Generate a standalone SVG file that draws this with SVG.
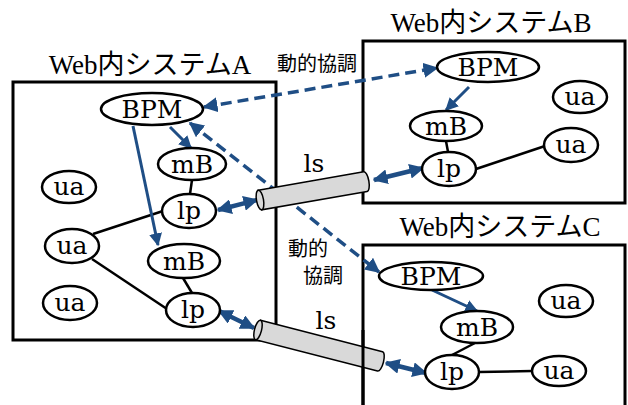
<svg xmlns="http://www.w3.org/2000/svg" width="628" height="405" viewBox="0 0 628 405">
  <style>
    .box { fill: none; stroke: #000; stroke-width: 3; }
    .title { font-size: 27px; fill: #000; text-anchor: middle; }
    .node ellipse { fill: #fff; stroke: #000; stroke-width: 2.5; }
    .node text { font-size: 25px; fill: #000; text-anchor: middle; }
    .link { stroke: #000; stroke-width: 2.5; fill: none; }
    .flow { stroke: #1F4E85; stroke-width: 3; fill: none; }
    .dash { stroke: #1F4E85; stroke-width: 3.5; fill: none; stroke-dasharray: 11 6; }
    .dbl { stroke: #1F4E85; stroke-width: 4.5; fill: none; }
    .note { font-size: 20px; fill: #000; }
    .ls { font-size: 25px; fill: #000; text-anchor: middle; }
    .cyl path, .cyl ellipse { fill: #d9d9d9; stroke: #000; stroke-width: 1.5; }
  </style>
  <defs>
    <marker id="head" viewBox="0 0 10 10" refX="9" refY="5" markerWidth="13" markerHeight="13" markerUnits="userSpaceOnUse" orient="auto-start-reverse">
      <path d="M0,0 L10,5 L0,10 Z" fill="#1F4E85"/>
    </marker>
    <marker id="headBig" viewBox="0 0 10 10" refX="9" refY="5" markerWidth="15" markerHeight="15" markerUnits="userSpaceOnUse" orient="auto-start-reverse">
      <path d="M0,0 L10,5 L0,10 Z" fill="#1F4E85"/>
    </marker>
  </defs>

  <!-- system frames -->
  <g id="systemA" font-family="Liberation Serif, Noto Sans CJK JP, serif">
    <rect class="box" x="13" y="82" width="263" height="258"/>
    <text class="title" x="150" y="74">Web内システムA</text>
  </g>
  <g id="systemB" font-family="Liberation Serif, Noto Sans CJK JP, serif">
    <rect class="box" x="363" y="41" width="262" height="162"/>
    <text class="title" x="491" y="32">Web内システムB</text>
  </g>
  <g id="systemC" font-family="Liberation Serif, Noto Sans CJK JP, serif">
    <rect class="box" x="363" y="245" width="262" height="170"/>
    <text class="title" x="500" y="236">Web内システムC</text>
  </g>

  <!-- connectors -->
  <g id="connectors">
    <!-- plain links inside systems -->
    <line class="link" x1="192" y1="180" x2="190" y2="194"/>
    <line class="link" x1="93" y1="234" x2="163" y2="211"/>
    <line class="link" x1="92" y1="259" x2="167" y2="309"/>
    <line class="link" x1="183" y1="278" x2="192" y2="293"/>
    <line class="link" x1="446" y1="141" x2="448" y2="152"/>
    <line class="link" x1="476" y1="169" x2="545" y2="146"/>
    <line class="link" x1="475" y1="343" x2="452" y2="355"/>
    <line class="link" x1="479" y1="372" x2="532" y2="371"/>

    <!-- BPM to mB flows -->
    <line class="flow" x1="170" y1="127" x2="191" y2="148" marker-end="url(#head)"/>
    <line class="flow" x1="133" y1="126" x2="158" y2="245" marker-end="url(#head)"/>
    <line class="flow" x1="469" y1="87" x2="446" y2="110" marker-end="url(#head)"/>
    <line class="flow" x1="432" y1="290" x2="477" y2="311" marker-end="url(#head)"/>

    <!-- dynamic coordination between BPMs -->
    <line class="dash" x1="204" y1="107" x2="437" y2="68" marker-start="url(#headBig)" marker-end="url(#headBig)"/>
    <line class="dash" x1="190" y1="123" x2="379" y2="272" marker-start="url(#headBig)" marker-end="url(#headBig)"/>

    <!-- lp to link-service pipes -->
    <line class="dbl" x1="218" y1="210" x2="257" y2="200" marker-start="url(#headBig)" marker-end="url(#headBig)"/>
    <line class="dbl" x1="374" y1="180" x2="423" y2="168" marker-start="url(#headBig)" marker-end="url(#headBig)"/>
    <line class="dbl" x1="219" y1="311" x2="254" y2="328" marker-start="url(#headBig)" marker-end="url(#headBig)"/>
    <line class="dbl" x1="386" y1="363" x2="426" y2="373" marker-start="url(#headBig)" marker-end="url(#headBig)"/>
  </g>

  <!-- link-service pipes -->
  <g id="pipe1" class="cyl" transform="translate(260,200) rotate(-9.9)">
    <path d="M0,-10 L107,-10 A3.5,10 0 0 1 107,10 L0,10 Z"/>
    <ellipse cx="0" cy="0" rx="3.5" ry="10"/>
  </g>
  <g id="pipe2" class="cyl" transform="translate(258,330) rotate(14.4)">
    <path d="M0,-10 L126,-10 A3.5,10 0 0 1 126,10 L0,10 Z"/>
    <ellipse cx="0" cy="0" rx="3.5" ry="10"/>
  </g>
  <line stroke="#000" stroke-width="3" x1="363" y1="330" x2="363" y2="405"/>

  <!-- labels -->
  <g id="labels">
    <text class="note" font-family="Noto Sans CJK JP, sans-serif" x="277" y="71">動的協調</text>
    <text class="note" font-family="Noto Sans CJK JP, sans-serif" x="288" y="256">動的</text>
    <text class="note" font-family="Noto Sans CJK JP, sans-serif" x="303" y="283">協調</text>
    <text class="ls" font-family="DejaVu Serif, serif" x="314" y="172">ls</text>
    <text class="ls" font-family="DejaVu Serif, serif" x="326" y="329">ls</text>
  </g>

  <g font-family="DejaVu Serif, serif">
    <!-- nodes of system A -->
    <g id="A_BPM" class="node"><ellipse cx="152" cy="109" rx="51" ry="16"/><text x="152" y="118">BPM</text></g>
    <g id="A_mB1" class="node"><ellipse cx="192" cy="164" rx="34" ry="16"/><text x="192" y="173">mB</text></g>
    <g id="A_lp1" class="node"><ellipse cx="189" cy="211" rx="27" ry="17"/><text x="189" y="219">lp</text></g>
    <g id="A_ua1" class="node"><ellipse cx="69" cy="187" rx="27" ry="16"/><text x="69" y="195">ua</text></g>
    <g id="A_ua2" class="node"><ellipse cx="72" cy="246" rx="27" ry="17"/><text x="72" y="254">ua</text></g>
    <g id="A_mB2" class="node"><ellipse cx="184" cy="261" rx="36" ry="17"/><text x="184" y="270">mB</text></g>
    <g id="A_ua3" class="node"><ellipse cx="70" cy="303" rx="27" ry="17"/><text x="70" y="311">ua</text></g>
    <g id="A_lp2" class="node"><ellipse cx="193" cy="310" rx="27" ry="17"/><text x="193" y="318">lp</text></g>

    <!-- nodes of system B -->
    <g id="B_BPM" class="node"><ellipse cx="488" cy="67" rx="51" ry="15"/><text x="488" y="76">BPM</text></g>
    <g id="B_ua1" class="node"><ellipse cx="580" cy="97" rx="27" ry="16"/><text x="580" y="105">ua</text></g>
    <g id="B_mB" class="node"><ellipse cx="446" cy="126" rx="36" ry="15"/><text x="446" y="135">mB</text></g>
    <g id="B_lp" class="node"><ellipse cx="449" cy="169" rx="27" ry="17"/><text x="449" y="177">lp</text></g>
    <g id="B_ua2" class="node"><ellipse cx="571" cy="145" rx="27" ry="17"/><text x="571" y="153">ua</text></g>

    <!-- nodes of system C -->
    <g id="C_BPM" class="node"><ellipse cx="431" cy="276" rx="52" ry="14"/><text x="431" y="285">BPM</text></g>
    <g id="C_ua1" class="node"><ellipse cx="566" cy="301" rx="27" ry="16"/><text x="566" y="309">ua</text></g>
    <g id="C_mB" class="node"><ellipse cx="477" cy="327" rx="36" ry="16"/><text x="477" y="336">mB</text></g>
    <g id="C_lp" class="node"><ellipse cx="452" cy="372" rx="27" ry="17"/><text x="452" y="380">lp</text></g>
    <g id="C_ua2" class="node"><ellipse cx="559" cy="371" rx="27" ry="15"/><text x="559" y="379">ua</text></g>
  </g>
</svg>
